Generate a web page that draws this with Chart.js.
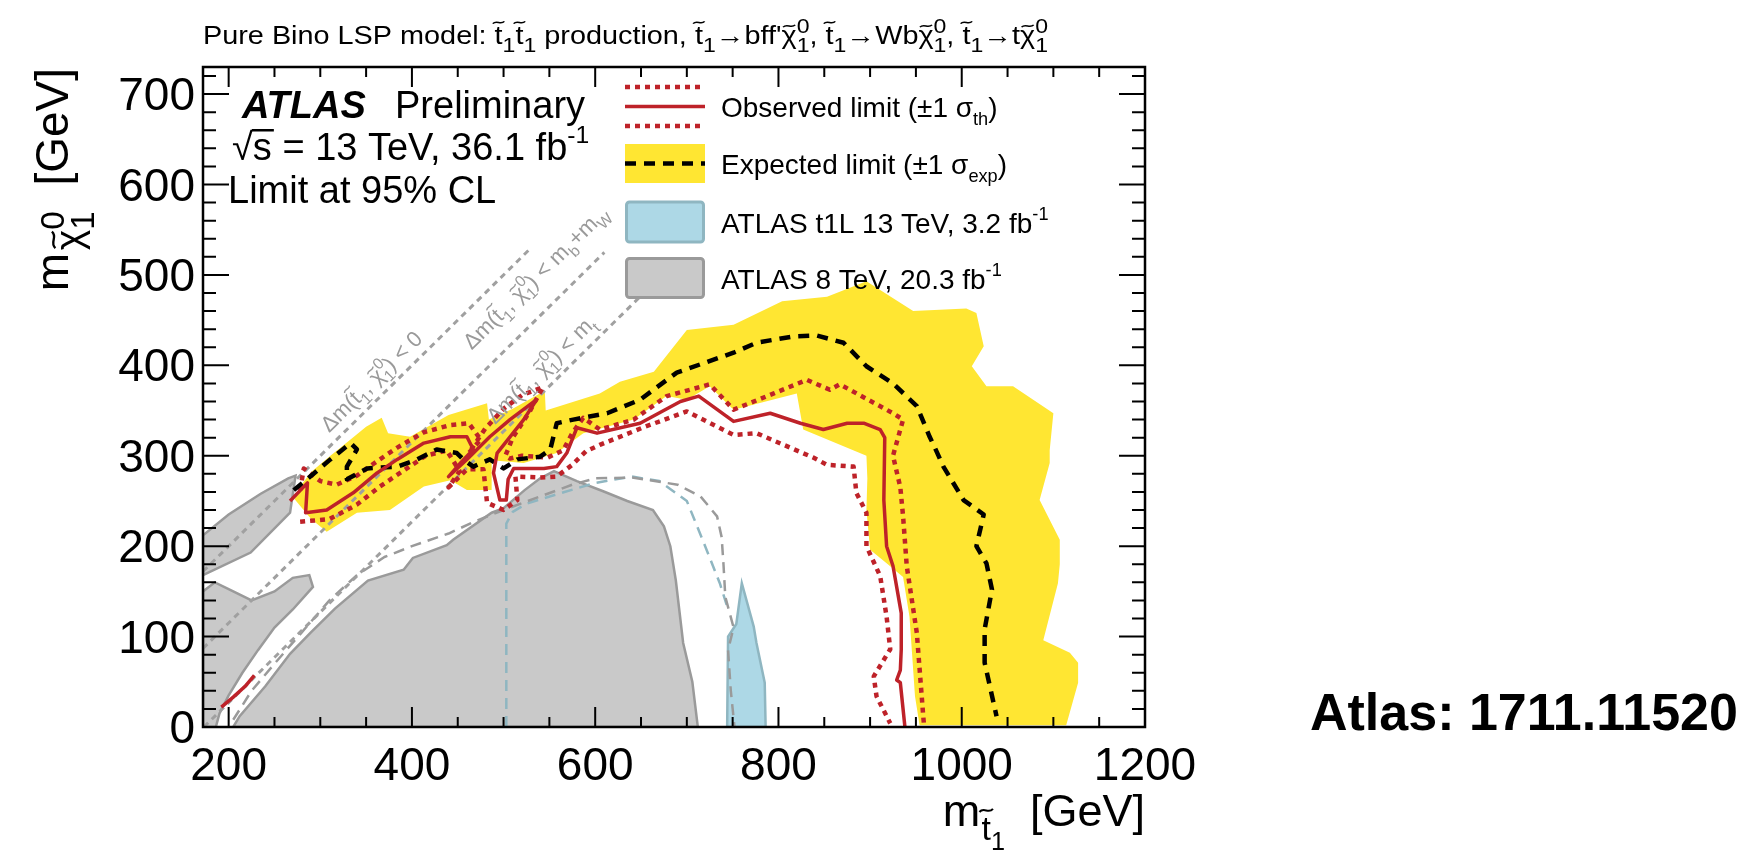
<!DOCTYPE html>
<html>
<head>
<meta charset="utf-8">
<script src="https://cdn.jsdelivr.net/npm/chart.js@4.4.1/dist/chart.umd.min.js"></script>
<style>
  html, body { margin: 0; padding: 0; background: #fff; }
  canvas { display: block; }
</style>
</head>
<body>
<canvas id="c" width="1755" height="856"></canvas>
<script>
(function () {
  'use strict';

  // ── Data (GeV) ─────────────────────────────────────────────────────────────
  const xTicks = [200, 400, 600, 800, 1000, 1200];
  const yTicks = [0, 100, 200, 300, 400, 500, 600, 700];

  // expected ±1σ band (outer edge, then inner edge back)
  const expBand = [[272,252],[278,266],[290,282],[311,300],[333,318],[350,332],[367,342],[374,325],[398,321],
    [440,345],[482,358],[484,340],[510,352],[545,372],[546,350],[605,369],[627,382],[664,393],[700,439],
    [751,445],[804,471],[853,476],[896,493],[947,460],[1005,463],[1016,458],[1024,421],[1011,399],[1027,377],
    [1056,377],[1100,347],[1096,306],[1096,292],[1085,251],[1107,207],[1107,180],[1105,159],[1089,96],
    [1118,82],[1127,71],[1127,49],[1114,2],[954,2],[949,34],[943,122],[936,166],[918,181],[900,196],
    [896,240],[897,275],[896,300],[827,329],[820,369],[751,351],[725,377],[700,362],[678,366],[642,340],
    [613,332],[587,325],[558,303],[522,292],[487,295],[487,262],[460,262],[442,273],[413,266],[376,240],
    [340,237],[307,216],[290,230]];

  const expLimit = [[271,262],[289,277],[311,296],[333,314],[340,307],[329,288],[329,274],[351,286],[384,288],
    [406,296],[427,307],[449,303],[456,296],[467,288],[485,296],[500,286],[515,296],[540,299],[551,307],
    [558,336],[576,340],[613,347],[649,362],[689,392],[751,414],[776,425],[816,432],[842,433],[871,425],
    [896,399],[925,380],[951,355],[965,321],[972,306],[980,288],[1002,251],[1024,235],[1016,200],[1027,181],
    [1033,152],[1025,108],[1025,71],[1038,12]];

  const obsLimit = [[267,250],[286,270],[284,237],[307,240],[336,259],[362,281],[384,296],[413,314],[442,321],
    [460,321],[467,307],[453,292],[440,277],[460,296],[485,321],[507,340],[536,362],[522,340],[493,303],
    [489,281],[496,251],[503,251],[505,274],[511,286],[544,286],[558,288],[569,303],[580,331],[602,325],
    [649,336],[693,360],[713,366],[751,338],[791,347],[824,336],[849,329],[875,336],[893,336],[911,329],
    [916,320],[915,251],[918,200],[925,178],[934,126],[934,86],[933,63],[929,52],[933,49],[938,0]];

  const obsUp = [[278,262],[282,286],[300,272],[318,268],[340,278],[362,294],[384,309],[413,326],[442,334],
    [462,336],[475,318],[462,303],[480,330],[500,352],[520,367],[543,376],[528,348],[510,320],[502,300],
    [507,297],[520,300],[548,298],[565,306],[575,325],[587,342],[605,329],[642,340],[678,366],[725,379],
    [751,351],[795,369],[831,384],[856,373],[867,379],[925,347],[936,340],[925,300],[933,265],[936,233],
    [940,178],[951,104],[958,12],[959,0]];

  const obsDown = [[278,227],[310,230],[340,246],[365,266],[390,283],[415,300],[438,306],[452,283],[440,265],
    [460,285],[478,285],[482,248],[500,240],[515,251],[513,277],[540,276],[558,277],[575,290],[590,305],
    [605,312],[654,332],[700,349],[751,323],[776,325],[838,298],[853,290],[882,288],[885,259],[896,237],
    [896,200],[911,167],[918,122],[922,86],[904,56],[907,34],[922,4]];

  const obsCorner = [[192,22],[205,33],[218,45],[228,57]];

  // ATLAS 8 TeV excluded regions
  const grey8Main = [[205,0],[212,12],[240,45],[267,81],[290,105],[316,131],[352,162],[391,174],[401,187],
    [438,201],[445,207],[487,237],[500,242],[523,262],[540,275],[555,283],[580,272],[608,261],[635,250],
    [663,240],[675,222],[682,200],[688,162],[696,93],[706,50],[712,0]];
  const grey8Top = [[172,212],[200,235],[235,258],[265,275],[273,278],[267,237],[224,193],[172,168]];
  const grey8Low = [[172,0],[172,150],[185,160],[205,150],[225,140],[250,150],[270,165],[288,168],[292,155],
    [270,130],[250,110],[232,85],[215,60],[200,35],[190,15],[186,0]];
  const grey8Exp = [[205,8],[225,40],[250,70],[280,105],[310,140],[340,168],[370,188],[400,200],[440,214],
    [470,228],[500,240],[540,255],[575,268],[600,275],[640,276],[690,268],[715,255],[733,233],[738,210],
    [740,180],[742,144],[751,110],[745,85],[748,40],[752,0]];

  // ATLAS t1L 13 TeV
  const t1lObs = [[744,0],[745,100],[754,114],[756,129],[760,159],[773,111],[776,93],[785,49],[786,0]];
  const t1lExp = [[503,0],[503,225],[510,238],[525,247],[560,258],[600,270],[640,277],[670,272],[700,250],
    [720,200],[736,159],[745,130]];

  // kinematic boundaries
  const dmZero = [[172,172],[530,530]];
  const dmBW   = [[172,87],[610,525]];
  const dmTop  = [[173,0],[660,487]];

  // ── Style ──────────────────────────────────────────────────────────────────
  const FONT   = '"Liberation Sans", Arial, Helvetica, sans-serif';
  const RED    = '#be2229';
  const YELLOW = '#ffe632';
  const GREYF  = '#c9c9c9';
  const GREYL  = '#9a9a9a';
  const BLUEF  = '#add8e6';
  const BLUEL  = '#8fb6c1';

  const pts = a => a.map(p => ({ x: p[0], y: p[1] }));
  const closed = a => pts(a.concat([a[0]]));

  function line(data, color, width, dash, order) {
    return { data: pts(data), borderColor: color, borderWidth: width, borderDash: dash || [],
      borderCapStyle: 'butt', borderJoinStyle: 'round', pointRadius: 0, tension: 0, fill: false, order };
  }
  function area(data, fillColor, lineColor, width, order) {
    return { data: closed(data), backgroundColor: fillColor, borderColor: lineColor || 'rgba(0,0,0,0)',
      borderWidth: width || 0, pointRadius: 0, tension: 0, fill: 'shape', order };
  }

  const datasets = [
    area(expBand, YELLOW, null, 0, 30),
    area(grey8Low, GREYF, GREYL, 2.5, 25),
    area(grey8Top, GREYF, GREYL, 2.5, 25),
    area(grey8Main, GREYF, GREYL, 2.5, 25),
    area(t1lObs, BLUEF, BLUEL, 2.5, 24),
    line(grey8Exp, GREYL, 2.5, [11, 7], 20),
    line(t1lExp, BLUEL, 2.5, [11, 7], 20),
    line(dmZero, '#a0a0a0', 3, [6, 5], 15),
    line(dmBW, '#a0a0a0', 3, [6, 5], 15),
    line(dmTop, '#a0a0a0', 3, [6, 5], 15),
    line(obsUp, RED, 4.5, [5, 5], 5),
    line(obsDown, RED, 4.5, [5, 5], 5),
    line(expLimit, '#000', 4.5, [11, 8], 4),
    line(obsLimit, RED, 3.5, [], 2),
    line(obsCorner, RED, 3.5, [], 2)
  ];

  // ── Rich text (tilde, sub/superscripts) ───────────────────────────────────
  function setFont(ctx, size, style) { ctx.font = `${style || ''} ${size}px ${FONT}`; }

  function drawTilde(ctx, cx, cy, w, size) {
    const a = size * 0.045;
    ctx.save();
    ctx.lineWidth = Math.max(1, size * 0.06);
    ctx.strokeStyle = ctx.fillStyle;
    ctx.beginPath();
    ctx.moveTo(cx - w / 2, cy + a);
    ctx.bezierCurveTo(cx - w / 6, cy - 2.6 * a, cx + w / 6, cy + 2.6 * a, cx + w / 2, cy - a);
    ctx.stroke();
    ctx.restore();
  }

  function rich(ctx, toks, x, y, size, draw, style, k) {
    let cx = x;
    for (const t of toks) {
      const o = typeof t === 'string' ? { s: t } : t;
      const st = o.style || style || '';
      const kk = o.k || k || 0.65;
      setFont(ctx, size, st);
      const w = ctx.measureText(o.s).width;
      if (draw) {
        ctx.fillText(o.s, cx, y);
        if (o.tilde) drawTilde(ctx, cx + w * 0.5, y - size * (o.th || 0.85), Math.max(w * 0.8, size * 0.4), size);
      }
      cx += w + (o.gap || 0) * size;
      let sw = 0;
      if (o.sub) sw = Math.max(sw, rich(ctx, [].concat(o.sub), cx, y + size * 0.3, size * kk, draw, st, k));
      if (o.sup) sw = Math.max(sw, rich(ctx, [].concat(o.sup), cx, y - size * 0.45, size * kk, draw, st, k));
      cx += sw;
    }
    return cx - x;
  }

  function text(ctx, toks, x, y, size, align, style, k, fitW) {
    ctx.textAlign = 'left';
    ctx.textBaseline = 'alphabetic';
    const w = rich(ctx, toks, 0, 0, size, false, style, k);
    if (fitW) {
      ctx.save();
      ctx.translate(x, y);
      ctx.scale(fitW / w, 1);
      rich(ctx, toks, 0, 0, size, true, style, k);
      ctx.restore();
      return fitW;
    }
    const x0 = align === 'right' ? x - w : align === 'center' ? x - w / 2 : x;
    rich(ctx, toks, x0, y, size, true, style, k);
    return w;
  }

  const T1  = { s: 't', tilde: true, th: 0.86, sub: '1' };
  const CHI = { s: 'χ', tilde: true, th: 0.72, sub: '1', sup: '0' };

  // ── Frame, ticks and texts ────────────────────────────────────────────────
  const deco = {
    id: 'deco',
    afterDatasetsDraw(chart) {
      const ctx = chart.ctx;
      const { left, right, top, bottom } = chart.chartArea;
      const sx = chart.scales.x, sy = chart.scales.y;
      ctx.save();
      ctx.fillStyle = '#000';
      ctx.strokeStyle = '#000';

      // kinematic line labels
      const p1 = [sx.getPixelForValue(200), sy.getPixelForValue(200)];
      const p2 = [sx.getPixelForValue(500), sy.getPixelForValue(500)];
      const ang = Math.atan2(p2[1] - p1[1], p2[0] - p1[0]);
      const kinLabels = [
        [356, 382, ['Δm(', T1, ', ', CHI, ') < 0']],
        [535, 497, ['Δm(', T1, ', ', CHI, { s: ') < m', sub: 'b' }, { s: '+m', sub: 'W' }]],
        [541, 395, ['Δm(', T1, ', ', CHI, { s: ') < m', sub: 't' }]]
      ];
      ctx.fillStyle = '#9a9a9a';
      kinLabels.forEach(kl => {
        ctx.save();
        ctx.translate(sx.getPixelForValue(kl[0]), sy.getPixelForValue(kl[1]));
        ctx.rotate(ang);
        text(ctx, kl[2], 0, 7, 22, 'center', '', 0.72);
        ctx.restore();
      });
      ctx.fillStyle = '#000';

      // frame
      ctx.lineWidth = 2.5;
      ctx.strokeRect(left, top, right - left, bottom - top);

      // ticks (inward, all four sides)
      ctx.lineWidth = 2;
      ctx.beginPath();
      for (let v = 200; v <= 1200; v += 50) {
        const px = sx.getPixelForValue(v);
        const len = v % 200 === 0 ? 20 : 10;
        ctx.moveTo(px, bottom); ctx.lineTo(px, bottom - len);
        ctx.moveTo(px, top);    ctx.lineTo(px, top + len);
      }
      for (let v = 0; v <= 720; v += 20) {
        const py = sy.getPixelForValue(v);
        const len = v % 100 === 0 ? 26 : 13;
        ctx.moveTo(left, py);  ctx.lineTo(left + len, py);
        ctx.moveTo(right, py); ctx.lineTo(right - len, py);
      }
      ctx.stroke();

      // tick labels
      setFont(ctx, 46);
      ctx.textBaseline = 'alphabetic';
      ctx.textAlign = 'center';
      xTicks.forEach(v => ctx.fillText(String(v), sx.getPixelForValue(v), 780));
      ctx.textAlign = 'right';
      yTicks.forEach(v => ctx.fillText(String(v), 195, sy.getPixelForValue(v) + 16));

      // axis titles
      text(ctx, [{ s: 'm', gap: 0.03, sub: [{ s: 't', tilde: true, th: 0.86, sub: '1' }] }, '  [GeV]'],
        right, 826, 45, 'right', '', 0.75);
      ctx.save();
      ctx.translate(68, 68);
      ctx.rotate(-Math.PI / 2);
      text(ctx, [{ s: 'm', gap: 0.06, sub: [{ s: 'χ', tilde: true, th: 0.72, sub: '1', sup: '0' }] }, '  [GeV]'],
        0, 0, 46, 'right', '', 0.85);
      ctx.restore();

      // title
      text(ctx, ['Pure Bino LSP model: ', T1, T1, ' production, ', T1, '→bff\'', CHI, ', ', T1, '→Wb', CHI, ', ', T1, '→t', CHI],
        203, 44, 25, 'left', '', 0.8, 845);

      // ATLAS label
      setFont(ctx, 38, 'italic bold');
      ctx.textAlign = 'left';
      ctx.fillText('ATLAS', 242, 118);
      setFont(ctx, 38);
      ctx.fillText('Preliminary', 395, 118);
      const wr = text(ctx, ['√'], 232, 160, 38, 'left');
      setFont(ctx, 38);
      const ws = ctx.measureText('s').width;
      ctx.fillRect(232 + wr - 1, 160 - 31, ws + 3, 2.5);
      text(ctx, [{ s: 's = 13 TeV, 36.1 fb', sup: '-1' }], 232 + wr, 160, 38, 'left');
      text(ctx, ['Limit at 95% CL'], 228, 203, 38, 'left');

      // legend
      const lx0 = 625, lx1 = 705, tx = 721, fs = 28;
      ctx.lineCap = 'butt';
      ctx.strokeStyle = RED;
      ctx.lineWidth = 4.5;
      ctx.setLineDash([5, 5]);
      ctx.beginPath();
      ctx.moveTo(lx0, 87); ctx.lineTo(lx1, 87);
      ctx.moveTo(lx0, 126); ctx.lineTo(lx1, 126);
      ctx.stroke();
      ctx.setLineDash([]);
      ctx.lineWidth = 3.5;
      ctx.beginPath(); ctx.moveTo(lx0, 106.5); ctx.lineTo(lx1, 106.5); ctx.stroke();

      ctx.fillStyle = YELLOW;
      ctx.fillRect(lx0, 144, lx1 - lx0, 39);
      ctx.strokeStyle = '#000';
      ctx.lineWidth = 4.5;
      ctx.setLineDash([11, 8]);
      ctx.beginPath(); ctx.moveTo(lx0, 163.5); ctx.lineTo(lx1, 163.5); ctx.stroke();
      ctx.setLineDash([]);

      ctx.lineWidth = 3;
      ctx.fillStyle = BLUEF; ctx.strokeStyle = BLUEL;
      ctx.beginPath(); ctx.roundRect(lx0 + 1.5, 202, lx1 - lx0 - 3, 40, 3); ctx.fill(); ctx.stroke();
      ctx.fillStyle = GREYF; ctx.strokeStyle = GREYL;
      ctx.beginPath(); ctx.roundRect(lx0 + 1.5, 258.5, lx1 - lx0 - 3, 39, 3); ctx.fill(); ctx.stroke();

      ctx.fillStyle = '#000';
      text(ctx, ['Observed limit (±1 ', { s: 'σ', sub: 'th' }, ')'], tx, 117, fs, 'left');
      text(ctx, ['Expected limit (±1 ', { s: 'σ', sub: 'exp' }, ')'], tx, 174, fs, 'left');
      text(ctx, [{ s: 'ATLAS t1L 13 TeV, 3.2 fb', sup: '-1' }], tx, 233, fs, 'left');
      text(ctx, [{ s: 'ATLAS 8 TeV, 20.3 fb', sup: '-1' }], tx, 289, fs, 'left');

      // reference tag
      setFont(ctx, 52, 'bold');
      ctx.textAlign = 'left';
      ctx.fillText('Atlas: 1711.11520', 1310, 730);
      ctx.restore();
    }
  };

  new Chart(document.getElementById('c'), {
    type: 'line',
    data: { datasets },
    options: {
      responsive: false,
      animation: false,
      devicePixelRatio: 1,
      events: [],
      layout: { padding: { left: 0, top: 67, right: 610, bottom: 0 } },
      plugins: { legend: { display: false }, tooltip: { enabled: false } },
      scales: {
        x: { type: 'linear', min: 172, max: 1200, grid: { display: false, drawTicks: false },
             border: { display: false }, ticks: { display: false }, afterFit(s) { s.height = 129; } },
        y: { type: 'linear', min: 0, max: 730, grid: { display: false, drawTicks: false },
             border: { display: false }, ticks: { display: false }, afterFit(s) { s.width = 203; } }
      }
    },
    plugins: [deco]
  });
})();
</script>
</body>
</html>
